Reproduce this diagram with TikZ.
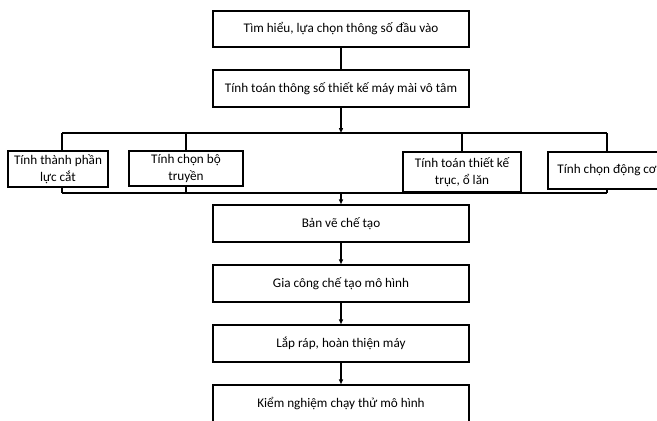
\documentclass[tikz,border=0pt]{standalone}
\usepackage{fontspec}
\setmainfont{Carlito}
\usetikzlibrary{arrows.meta}
\begin{document}
\begin{tikzpicture}[x=1pt,y=-1pt,
  box/.style={draw,line width=1.4pt,minimum height=37pt,inner sep=2pt,align=center,
    font=\fontsize{13.2}{17.5}\selectfont},
  mainbox/.style={box,minimum width=256pt},
  ln/.style={line width=1.4pt},
  arr/.style={ln,-{Triangle[length=5pt,width=4pt]}}]
\useasboundingbox (0,0) rectangle (657,421);
\clip (0,0) rectangle (657,421);
\node[mainbox,minimum height=36pt] (b1) at (341,29) {Tìm hiểu, lựa chọn thông số đầu vào};
\node[mainbox] (b2) at (341,88.5) {Tính toán thông số thiết kế máy mài vô tâm};
\node[box,minimum width=100pt,minimum height=36pt] (A) at (58,169) {Tính thành phần\\lực cắt};
\node[box,minimum width=114pt,minimum height=35pt] (B) at (186,168.5) {Tính chọn bộ\\truyền};
\node[box,minimum width=118pt,minimum height=40pt] (C) at (462,172) {Tính toán thiết kế\\trục, ổ lăn};
\node[box,minimum width=118pt] (D) at (607,170.5) {Tính chọn động cơ};
\node[mainbox] (E) at (341,223.5) {Bản vẽ chế tạo};
\node[mainbox] (F) at (341,283.5) {Gia công chế tạo mô hình};
\node[mainbox] (G) at (341,343.5) {Lắp ráp, hoàn thiện máy};
\node[mainbox] (H) at (341,403.5) {Kiểm nghiệm chạy thử mô hình};
% top bus
\coordinate (ta) at (62,133);
\coordinate (tb) at (186,133);
\coordinate (tc) at (462,133);
\coordinate (td) at (607,133);
\coordinate (tm) at (341,133);
\coordinate (ba) at (62,193);
\coordinate (bd) at (607,193);
\coordinate (bm) at (341,193);
\draw[ln] (b1) -- (b2);
\draw[arr] (b2) -- (tm);
\draw[ln] (ta) -- (td);
\draw[ln] (ta) -- (ta |- A.north);
\draw[ln] (tb) -- (B.north);
\draw[ln] (tc) -- (C.north);
\draw[ln] (td) -- (D.north);
\draw[ln] (ba) -- (bd);
\draw[ln] (ba |- A.south) -- (ba);
\draw[ln] (B.south) -- (B.south |- ba);
\draw[ln] (C.south) -- (C.south |- ba);
\draw[ln] (D.south) -- (bd);
\draw[arr] (bm) -- (E);
\draw[arr] (E) -- (F);
\draw[arr] (F) -- (G);
\draw[arr] (G) -- (H);
\end{tikzpicture}
\end{document}
